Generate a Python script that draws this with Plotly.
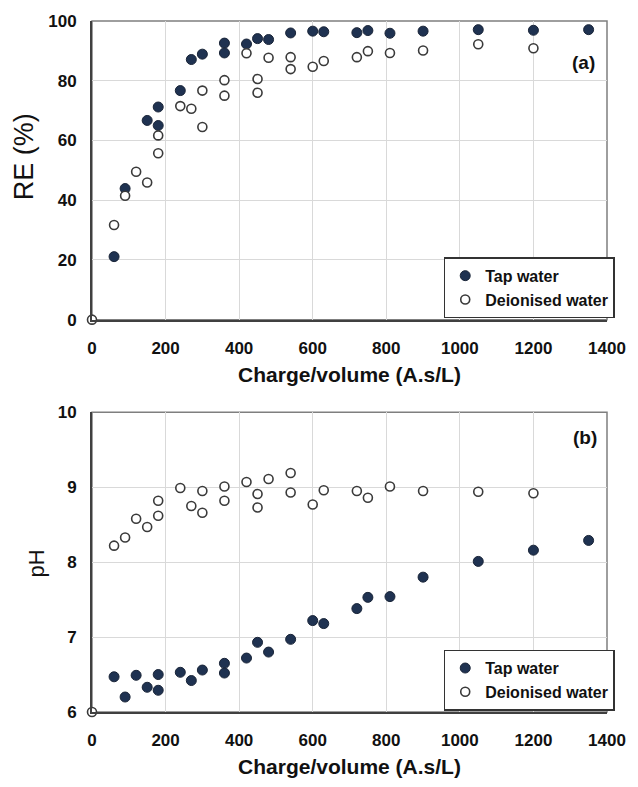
import plotly.graph_objects as go

# ---- Data: (a) removal efficiency RE (%) vs charge/volume (A.s/L)
re_tap_x = [60, 90, 150, 180, 180, 240, 270, 300, 360, 360, 420, 450, 480, 540, 600, 630, 720, 750, 810, 900, 1050, 1200, 1350]
re_tap_y = [21.1, 43.9, 66.7, 71.2, 65.0, 76.7, 87.1, 88.9, 92.6, 89.3, 92.3, 94.1, 93.8, 96.0, 96.6, 96.4, 96.1, 96.8, 95.9, 96.6, 97.1, 96.9, 97.1]
re_di_x = [0, 60, 90, 120, 150, 180, 180, 240, 270, 300, 300, 360, 360, 420, 450, 450, 480, 540, 540, 600, 630, 720, 750, 810, 900, 1050, 1200]
re_di_y = [0.0, 31.7, 41.5, 49.5, 45.9, 55.7, 61.7, 71.5, 70.6, 76.7, 64.5, 80.2, 75.0, 89.2, 80.6, 76.0, 87.7, 87.9, 83.9, 84.7, 86.6, 87.9, 89.9, 89.3, 90.1, 92.2, 90.9]

# ---- Data: (b) pH vs charge/volume (A.s/L)
ph_tap_x = [60, 90, 120, 150, 180, 180, 240, 270, 300, 360, 360, 420, 450, 480, 540, 600, 630, 720, 750, 810, 900, 1050, 1200, 1350]
ph_tap_y = [6.47, 6.20, 6.49, 6.33, 6.50, 6.29, 6.53, 6.42, 6.56, 6.65, 6.52, 6.72, 6.93, 6.80, 6.97, 7.22, 7.18, 7.38, 7.53, 7.54, 7.80, 8.01, 8.16, 8.29]
ph_di_x = [0, 60, 90, 120, 150, 180, 180, 240, 270, 300, 300, 360, 360, 420, 450, 450, 480, 540, 540, 600, 630, 720, 750, 810, 900, 1050, 1200]
ph_di_y = [6.0, 8.22, 8.33, 8.58, 8.47, 8.62, 8.82, 8.99, 8.75, 8.95, 8.66, 9.01, 8.82, 9.07, 8.91, 8.73, 9.11, 9.19, 8.93, 8.77, 8.96, 8.95, 8.86, 9.01, 8.95, 8.94, 8.92]

x_ticks = [0, 200, 400, 600, 800, 1000, 1200, 1400]
re_ticks = [0, 20, 40, 60, 80, 100]
ph_ticks = [6, 7, 8, 9, 10]

tap_label = "Tap water"
di_label = "Deionised water"
x_title = "Charge/volume (A.s/L)"

NAVY = "#1f3251"
DARK = "#404040"
GRID = "#d9d9d9"
BOLD = "Liberation Sans Narrow, Arial Narrow, Liberation Sans, Arial"
REG = "Liberation Sans, Arial"

fig = go.Figure()

tap_marker = dict(size=10, color=NAVY, line=dict(color="#1a2538", width=1))
di_marker = dict(size=9, color="white", line=dict(color="#3a3a3a", width=1.6))

fig.add_trace(go.Scatter(x=re_tap_x, y=re_tap_y, mode="markers", name=tap_label,
                         marker=tap_marker, cliponaxis=False, xaxis="x", yaxis="y", legend="legend"))
fig.add_trace(go.Scatter(x=re_di_x, y=re_di_y, mode="markers", name=di_label,
                         marker=di_marker, cliponaxis=False, xaxis="x", yaxis="y", legend="legend"))
fig.add_trace(go.Scatter(x=ph_tap_x, y=ph_tap_y, mode="markers", name=tap_label,
                         marker=tap_marker, cliponaxis=False, xaxis="x2", yaxis="y2", legend="legend2"))
fig.add_trace(go.Scatter(x=ph_di_x, y=ph_di_y, mode="markers", name=di_label,
                         marker=di_marker, cliponaxis=False, xaxis="x2", yaxis="y2", legend="legend2"))

top_dom = [0.5678, 1.0]
bot_dom = [0.0, 0.4337]

xcommon = dict(range=[0, 1400], tickvals=x_ticks, showgrid=True, gridcolor=GRID, gridwidth=1,
               showline=True, linecolor=DARK, linewidth=2, zeroline=False, ticks="",
               tickfont=dict(family=BOLD, size=17, color="#111111", weight="bold"),
               ticklabelstandoff=12,
               title=dict(text=x_title, font=dict(family=REG, size=21, color="#111111", weight="bold"),
                          standoff=10))

ycommon = dict(showgrid=True, gridcolor=GRID, showline=True, linecolor=DARK, linewidth=2,
               zeroline=False, ticks="", ticklabelstandoff=10,
               tickfont=dict(family=BOLD, size=17, color="#111111", weight="bold"))

legend_style = dict(xanchor="right", yanchor="bottom", bgcolor="white", bordercolor="#333333",
                    borderwidth=1.5, font=dict(family=BOLD, size=16, color="#111111", weight="bold"),
                    itemsizing="trace", tracegroupgap=0)

fig.update_layout(
    width=638, height=787,
    margin=dict(l=92, r=24, t=20, b=66),
    paper_bgcolor="white", plot_bgcolor="white",
    showlegend=True,
    xaxis=dict(domain=[0, 1], anchor="y", **xcommon),
    yaxis=dict(domain=top_dom, anchor="x", range=[0, 100], tickvals=re_ticks, **ycommon),
    xaxis2=dict(domain=[0, 1], anchor="y2", **xcommon),
    yaxis2=dict(domain=bot_dom, anchor="x2", range=[6, 10], tickvals=ph_ticks, **ycommon),
    legend=dict(x=1.015, y=top_dom[0] + 0.002, **legend_style),
    legend2=dict(x=1.015, y=0.002, **legend_style),
)

# y-axis titles placed as annotations to match reference positions
fig.add_annotation(text="RE (%)", xref="paper", yref="paper", x=-0.132, y=0.803,
                   textangle=-90, showarrow=False, xanchor="center", yanchor="middle",
                   font=dict(family=REG, size=27, color="#111111"))
fig.add_annotation(text="pH", xref="paper", yref="paper", x=-0.108, y=0.2154,
                   textangle=-90, showarrow=False, xanchor="center", yanchor="middle",
                   font=dict(family=REG, size=22, color="#111111"))

# grey frame on top/right sides (left/bottom drawn by axis lines)
for xr, yr in (("x domain", "y domain"), ("x2 domain", "y2 domain")):
    fig.add_shape(type="rect", xref=xr, yref=yr, x0=0, x1=1, y0=0, y1=1,
                  line=dict(color="#7f7f7f", width=1.5), layer="below")

fig.add_annotation(text="(a)", xref="x domain", yref="y domain", x=0.98, y=0.86,
                   xanchor="right", yanchor="middle", showarrow=False,
                   font=dict(family=REG, size=19, color="#111111", weight="bold"))
fig.add_annotation(text="(b)", xref="x2 domain", yref="y2 domain", x=0.985, y=0.915,
                   xanchor="right", yanchor="middle", showarrow=False,
                   font=dict(family=REG, size=19, color="#111111", weight="bold"))

fig.write_html("out.html")
